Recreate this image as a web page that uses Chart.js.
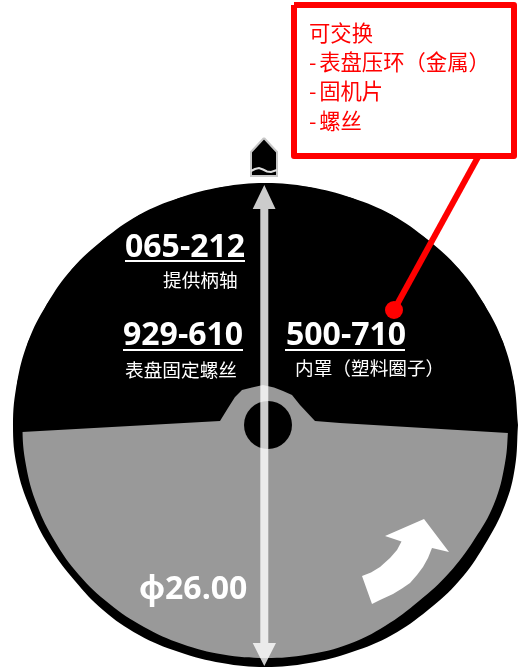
<!DOCTYPE html>
<html>
<head>
<meta charset="utf-8">
<title>表盘</title>
<style>
    html, body { margin: 0; padding: 0; background: #fff; }
    canvas { display: block; }
</style>
<script src="https://cdn.jsdelivr.net/npm/chart.js@4/dist/chart.umd.min.js"></script>
</head>
<body>
<canvas id="chart" width="527" height="670"></canvas>
<script>
const rimX = [518, 515, 505, 484, 459, 428, 392, 352, 309, 265.5, 222, 179, 139, 103, 75, 49, 30, 17, 13, 17, 28, 47, 72, 103, 139, 179, 222, 265.5, 309, 352, 392, 428, 459, 484, 503, 514, 518];
const rimY = [425, 467, 505, 546, 581, 610, 635, 652, 663, 667, 663, 652, 635, 610, 581, 546, 508, 467, 425, 383, 342, 304, 269, 240, 215, 198, 187, 183, 187, 198, 215, 240, 269, 304, 342, 383, 425];

const faceX = [508.5, 505, 494, 474, 449, 419, 385, 349, 308, 265.5, 223, 182, 144, 109, 79, 55, 37, 26, 22.5, 26, 37, 55, 79, 109, 144, 182, 223, 265.5, 308, 349, 387, 422, 452, 476, 494, 505, 508.5];
const faceY = [425, 463, 504, 540, 573, 601, 626, 644, 654.5, 658, 654.5, 644, 627, 603.5, 575, 541.5, 505, 465.5, 425, 384.5, 345, 308.5, 275, 246.5, 223, 206, 195.5, 192, 195.5, 206, 223, 246.5, 275, 308.5, 345, 384.5, 425];

const coverX = [14, 22, 220, 228, 235, 242, 252, 263, 274, 283, 292, 300, 315, 340, 508, 517, 514, 503, 484, 459, 428, 392, 352, 309, 265.5, 222, 179, 139, 103, 72, 47, 28, 17];
const coverY = [432, 432, 421, 408, 397, 390, 387.5, 385, 387.5, 391, 395, 405, 421, 423, 433, 433, 383, 342, 304, 269, 240, 215, 198, 187, 183, 187, 198, 215, 240, 269, 304, 342, 383];

const holeX = [268];
const holeY = [425];

const gaugeX = [264.3, 275.5, 268.3, 268.3, 276, 264.3, 252.7, 260.3, 260.3, 252.7];
const gaugeY = [185, 209, 209, 643, 643, 666, 643, 643, 209, 209];

const turnX = [362, 371, 380, 390, 397, 401.5, 385, 424, 449, 432, 428, 423, 417, 410, 402, 393, 380, 372];
const turnY = [576, 572.5, 567, 558, 550, 541.5, 536, 519, 552, 548, 558, 567, 575, 583, 588.5, 594, 600, 604];

const houseX = [264, 277, 277, 251, 251, 264];
const houseY = [138, 152, 176, 176, 152, 138];
const waveX = [251, 255, 259, 263, 267, 271, 277];
const waveY = [171, 169, 168, 169.5, 171.5, 172, 170];

const boxX = [294, 514, 514, 294, 294];
const boxY = [5, 5, 156, 156, 5];
const leaderX = [478, 394];
const leaderY = [157, 310];
const dotX = [394];
const dotY = [310];

const ruleX = [[125, 245], [123, 243], [285, 405]];
const ruleY = [[261, 261], [350, 350], [350, 350]];

const partNumbers = ['065-212', '929-610', '500-710'];
const partNames = ['提供柄轴', '表盘固定螺丝', '内罩（塑料圈子）'];
const calloutLines = ['可交换', '- 表盘压环（金属）', '- 固机片', '- 螺丝'];
const diameterLabel = 'ϕ26.00';

const NUMBER_FONT = 'bold 32px "Open Sans", "Noto Sans"';
const NAME_FONT = '18.67px "Noto Sans CJK SC"';
const CALLOUT_FONT = '21.33px "Noto Sans CJK SC"';

function toPoints(xs, ys) {
    var points = [];
    for (var i = 0; i < xs.length; i++) {
        points.push({ x: xs[i], y: ys[i] });
    }
    return points;
}

function shape(xs, ys, color, extra) {
    return Object.assign({
        data: toPoints(xs, ys),
        showLine: true,
        fill: 'shape',
        backgroundColor: color,
        borderColor: color,
        borderWidth: 0,
        pointRadius: 0
    }, extra);
}

function stroke(xs, ys, color, width) {
    return {
        data: toPoints(xs, ys),
        showLine: true,
        fill: false,
        borderColor: color,
        borderWidth: width,
        pointRadius: 0
    };
}

function dot(xs, ys, color, radius) {
    return {
        data: toPoints(xs, ys),
        showLine: false,
        pointRadius: radius,
        pointBackgroundColor: color,
        pointBorderWidth: 0
    };
}

const datasets = [
    shape(rimX, rimY, '#000000', { tension: 0.4 }),
    shape(faceX, faceY, '#999999', { tension: 0.4 }),
    shape(coverX, coverY, '#000000'),
    dot(holeX, holeY, '#000000', 24),
    shape(gaugeX, gaugeY, 'rgba(255,255,255,0.8)'),
    shape(turnX, turnY, '#ffffff'),
    shape(houseX, houseY, '#000000', { borderColor: '#c8c8c8', borderWidth: 2 }),
    stroke(waveX, waveY, '#e0e0e0', 2),
    stroke(leaderX, leaderY, '#ff0000', 6),
    shape(boxX, boxY, '#ffffff', { borderColor: '#ff0000', borderWidth: 6, borderJoinStyle: 'round' }),
    dot(dotX, dotY, '#ff0000', 9)
];

for (var r = 0; r < ruleX.length; r++) {
    datasets.push(stroke(ruleX[r], ruleY[r], '#ffffff', 2));
}

// later entries sit on top
datasets.forEach(function (dataset, index) {
    dataset.order = datasets.length - index;
});

const textLabels = {
    id: 'textLabels',
    afterDatasetsDraw: function (chart) {
        const ctx = chart.ctx;
        const x = chart.scales.x;
        const y = chart.scales.y;

        function put(text, px, py, font, color) {
            ctx.font = font;
            ctx.fillStyle = color;
            ctx.fillText(text, x.getPixelForValue(px), y.getPixelForValue(py));
        }

        ctx.save();
        ctx.textBaseline = 'alphabetic';
        ctx.textAlign = 'left';

        put(partNumbers[0], 125, 257, NUMBER_FONT, '#ffffff');
        put(partNumbers[1], 123, 345, NUMBER_FONT, '#ffffff');
        put(partNumbers[2], 286, 345, NUMBER_FONT, '#ffffff');

        put(partNames[0], 163, 287, NAME_FONT, '#ffffff');
        put(partNames[1], 125, 377, NAME_FONT, '#ffffff');
        put(partNames[2], 295, 375, NAME_FONT, '#ffffff');

        // the space after the dash is a little narrower in the original
        ctx.wordSpacing = '-2px';
        put(calloutLines[0], 309, 41, CALLOUT_FONT, '#ff0000');
        put(calloutLines[1], 309, 70, CALLOUT_FONT, '#ff0000');
        put(calloutLines[2], 309, 99, CALLOUT_FONT, '#ff0000');
        put(calloutLines[3], 309, 129, CALLOUT_FONT, '#ff0000');
        ctx.wordSpacing = '0px';

        put(diameterLabel, 139, 599, NUMBER_FONT, '#ffffff');

        ctx.restore();
    }
};

new Chart(document.getElementById('chart'), {
    type: 'scatter',
    data: { datasets: datasets },
    options: {
        responsive: false,
        animation: false,
        layout: { padding: 0, autoPadding: false },
        plugins: {
            legend: { display: false },
            title: { display: false },
            tooltip: { enabled: false }
        },
        scales: {
            x: { type: 'linear', display: false, min: 0, max: 527 },
            y: { type: 'linear', display: false, min: 0, max: 670, reverse: true }
        }
    },
    plugins: [textLabels]
});
</script>
</body>
</html>
